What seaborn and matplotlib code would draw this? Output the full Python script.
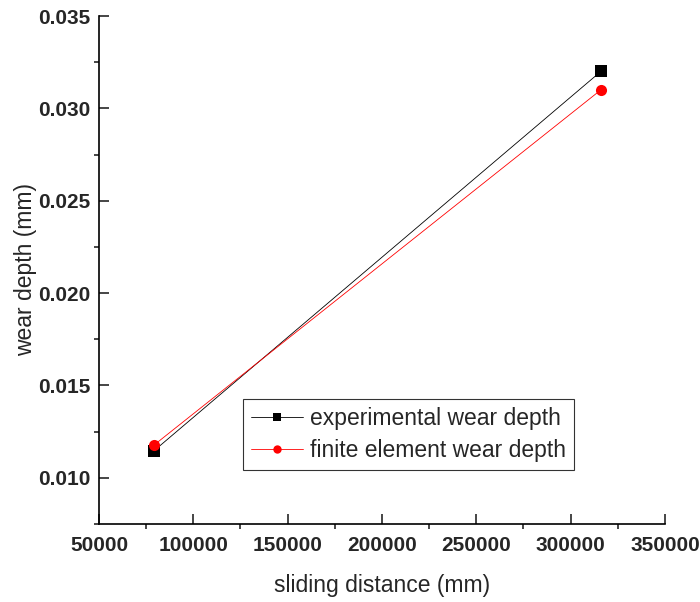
import matplotlib
matplotlib.use("Agg")
import matplotlib.pyplot as plt
from matplotlib.ticker import MultipleLocator, FormatStrFormatter
import pandas as pd
import seaborn as sns

# Sliding distance (mm) and wear depth (mm)
sliding_distance = [79000, 316000]
experimental_depth = [0.01145, 0.0320]
fe_depth = [0.01176, 0.0310]
series_names = ["experimental wear depth", "finite element wear depth"]

df = pd.DataFrame({
    "distance": sliding_distance * 2,
    "depth": experimental_depth + fe_depth,
    "series": [series_names[0]] * len(sliding_distance) + [series_names[1]] * len(sliding_distance),
})

sns.set_style("ticks")
plt.rcParams["font.family"] = ["Liberation Sans", "DejaVu Sans"]

fig = plt.figure(figsize=(7.0, 6.02), dpi=100)
ax = fig.add_axes([0.1414, 0.1296, 0.8086, 0.8438])

sns.lineplot(
    data=df, x="distance", y="depth", hue="series", style="series",
    palette={series_names[0]: "black", series_names[1]: "red"},
    markers={series_names[0]: "s", series_names[1]: "o"},
    dashes=False, linewidth=0.6, markersize=8, markeredgewidth=0,
    ax=ax, legend=True,
)

ax.set_xlim(50000, 350000)
ax.set_ylim(0.0075, 0.035)
ax.xaxis.set_major_locator(MultipleLocator(50000))
ax.xaxis.set_minor_locator(MultipleLocator(25000))
ax.yaxis.set_major_locator(MultipleLocator(0.005))
ax.yaxis.set_minor_locator(MultipleLocator(0.0025))
ax.yaxis.set_major_formatter(FormatStrFormatter("%.3f"))
ax.xaxis.set_major_formatter(FormatStrFormatter("%d"))

ax.tick_params(which="major", direction="in", length=7, width=1.2, labelsize=15)
ax.tick_params(axis="x", which="major", pad=9)
ax.tick_params(axis="y", which="major", pad=6)
ax.tick_params(which="minor", direction="out", length=3.5, width=1.2)
for lbl in ax.get_xticklabels() + ax.get_yticklabels():
    lbl.set_fontweight("bold")

for side in ("top", "right"):
    ax.spines[side].set_visible(False)
for side in ("left", "bottom"):
    ax.spines[side].set_linewidth(1.2)
    ax.spines[side].set_color("black")

ax.set_xlabel("sliding distance (mm)", fontsize=16.5, labelpad=13)
ax.set_ylabel("wear depth (mm)", fontsize=16.5, labelpad=1)

leg = ax.legend(
    loc="upper left", bbox_to_anchor=(0.254, 0.246), fontsize=16.5,
    frameon=True, fancybox=False, edgecolor="black", handlelength=2.3,
    borderpad=0.35, borderaxespad=0, handletextpad=0.3, labelspacing=0.4,
    markerscale=0.75,
)
leg.get_frame().set_linewidth(0.8)

fig.savefig("out.png", dpi=100)
